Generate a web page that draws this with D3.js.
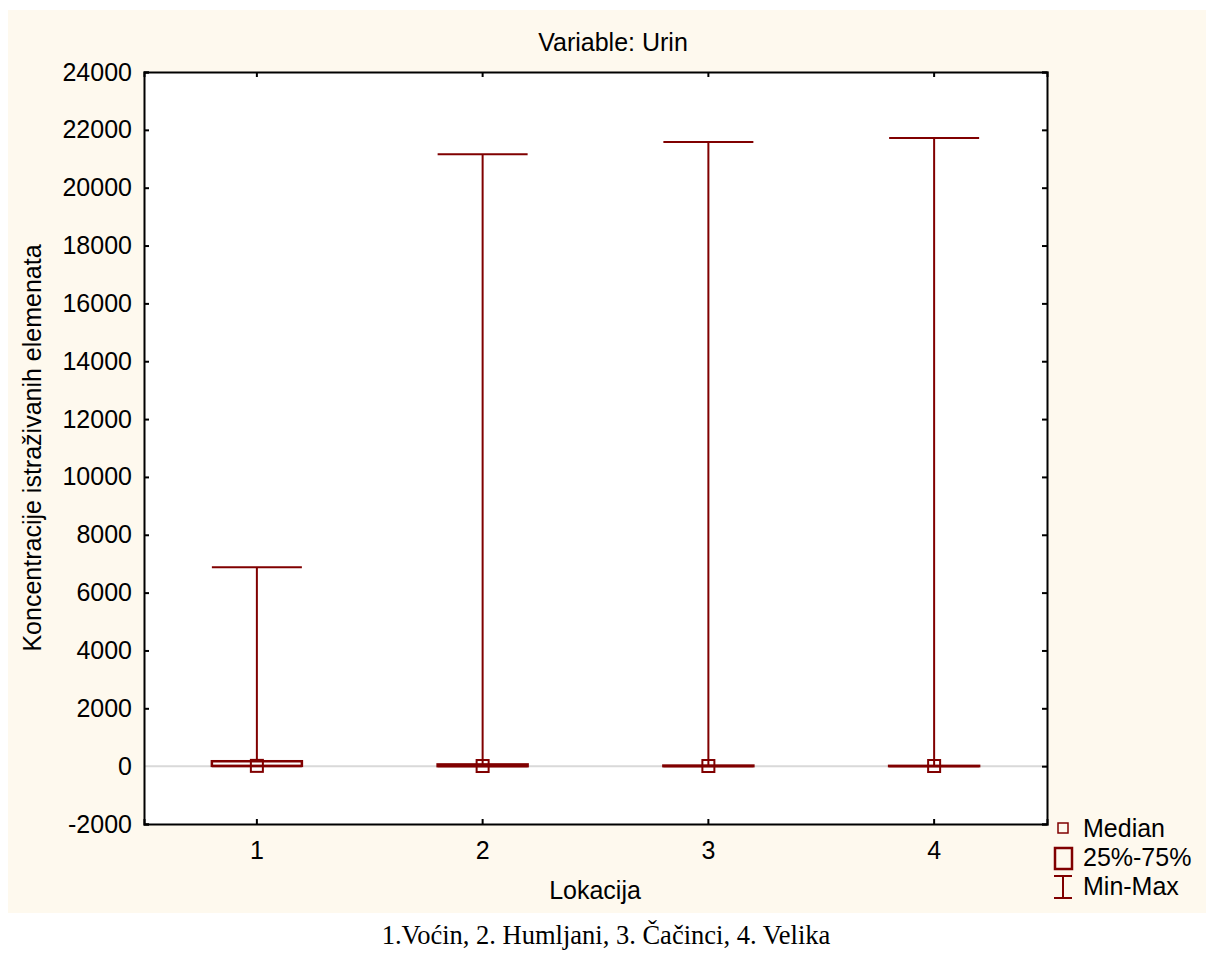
<!DOCTYPE html>
<html><head><meta charset="utf-8">
<script src="https://cdn.jsdelivr.net/npm/d3@7"></script>
<style>body{margin:0;background:#fff}svg{display:block}</style>
</head><body>
<script>
const categories = ["1","2","3","4"];
const minVals = [0, 0, 0, 0];
const q1Vals = [10, 0, 0, 0];
const medianVals = [10, 5, 5, 5];
const q3Vals = [170, 60, 20, 10];
const maxVals = [6880, 21160, 21580, 21720];
const yTicks = [-2000,0,2000,4000,6000,8000,10000,12000,14000,16000,18000,20000,22000,24000];
const legendLabels = ["Median","25%-75%","Min-Max"];

const W=1206,H=953;
const svg=d3.select("body").append("svg").attr("width",W).attr("height",H);
svg.append("rect").attr("x",8).attr("y",10).attr("width",W-8).attr("height",903).attr("fill","#fef9ee");
const L=144,R=1047,T=72,B=824;
const col="#800000";
const x=d3.scaleBand().domain(categories).range([L,R]).padding(0);
const y=d3.scaleLinear().domain([-2000,24000]).range([B,T]);
svg.append("rect").attr("x",L).attr("y",T).attr("width",R-L).attr("height",B-T).attr("fill","#fff");
svg.append("line").attr("x1",L).attr("x2",R).attr("y1",y(0)).attr("y2",y(0)).attr("stroke","#d9d9d9").attr("stroke-width",2);

const font="Liberation Sans, Arial, sans-serif";
const fs=25;
const gl=svg.append("g").attr("transform",`translate(${L},0)`).call(d3.axisLeft(y).tickValues(yTicks).tickSize(-5).tickPadding(12).tickFormat(d=>String(d)));
const gr=svg.append("g").attr("transform",`translate(${R},0)`).call(d3.axisRight(y).tickValues(yTicks).tickSize(-5).tickFormat(""));
const gb=svg.append("g").attr("transform",`translate(0,${B})`).call(d3.axisBottom(x).tickSize(-5).tickPadding(17));
const gt=svg.append("g").attr("transform",`translate(0,${T})`).call(d3.axisTop(x).tickSize(-5).tickFormat(""));
[gl,gr,gb,gt].forEach(g=>{
  g.attr("font-size",null).attr("font-family",null);
  g.select(".domain").attr("stroke","#000").attr("stroke-width",2);
  g.selectAll(".tick line").attr("stroke","#000").attr("stroke-width",2);
  g.selectAll("text").style("font-family",font).style("font-size",fs+"px").attr("fill","#000");
});
gl.selectAll(".tick").filter(d=>d===0).select("line").remove();

const bw=90;
const g=svg.append("g");
categories.forEach((c,i)=>{
  const cx=x(c)+x.bandwidth()/2;
  g.append("line").attr("x1",cx).attr("x2",cx).attr("y1",y(maxVals[i])).attr("y2",y(q3Vals[i])).attr("stroke",col).attr("stroke-width",2);
  g.append("line").attr("x1",cx-bw/2).attr("x2",cx+bw/2).attr("y1",y(maxVals[i])).attr("y2",y(maxVals[i])).attr("stroke",col).attr("stroke-width",2);
  g.append("line").attr("x1",cx-bw/2).attr("x2",cx+bw/2).attr("y1",y(minVals[i])).attr("y2",y(minVals[i])).attr("stroke",col).attr("stroke-width",2);
  g.append("rect").attr("x",cx-bw/2).attr("y",y(q3Vals[i])).attr("width",bw).attr("height",Math.max(0,y(q1Vals[i])-y(q3Vals[i]))).attr("fill","none").attr("stroke",col).attr("stroke-width",2.5);
  g.append("rect").attr("x",cx-6).attr("y",y(medianVals[i])-6).attr("width",12).attr("height",12).attr("fill","none").attr("stroke",col).attr("stroke-width",2);
});

function txt(xp,yp,t,size,anchor,fam){
  return svg.append("text").attr("x",xp).attr("y",yp).attr("text-anchor",anchor||"start").style("font-family",fam||font).style("font-size",size+"px").text(t);
}
txt(613,51,"Variable: Urin",fs,"middle");
txt(595,899,"Lokacija",fs,"middle");
svg.append("text").attr("transform",`translate(41,448) rotate(-90)`).attr("text-anchor","middle").style("font-family",font).style("font-size",fs+"px").text("Koncentracije istraživanih elemenata");
txt(606,944,"1.Voćin, 2. Humljani, 3. Čačinci, 4. Velika",26.5,"middle","Liberation Serif, Times New Roman, serif");

const lg=svg.append("g");
lg.append("rect").attr("x",1058).attr("y",823).attr("width",10).attr("height",10).attr("fill","none").attr("stroke",col).attr("stroke-width",1.5);
lg.append("rect").attr("x",1055).attr("y",848).attr("width",17).attr("height",21).attr("fill","none").attr("stroke",col).attr("stroke-width",2.5);
lg.append("line").attr("x1",1063).attr("x2",1063).attr("y1",876).attr("y2",898).attr("stroke",col).attr("stroke-width",2);
lg.append("line").attr("x1",1054).attr("x2",1072).attr("y1",876).attr("y2",876).attr("stroke",col).attr("stroke-width",2);
lg.append("line").attr("x1",1054).attr("x2",1072).attr("y1",898).attr("y2",898).attr("stroke",col).attr("stroke-width",2);
legendLabels.forEach((t,i)=>{
  lg.append("text").attr("x",1083).attr("y",837+i*29).style("font-family",font).style("font-size",fs+"px").text(t);
});
</script>
</body></html>
